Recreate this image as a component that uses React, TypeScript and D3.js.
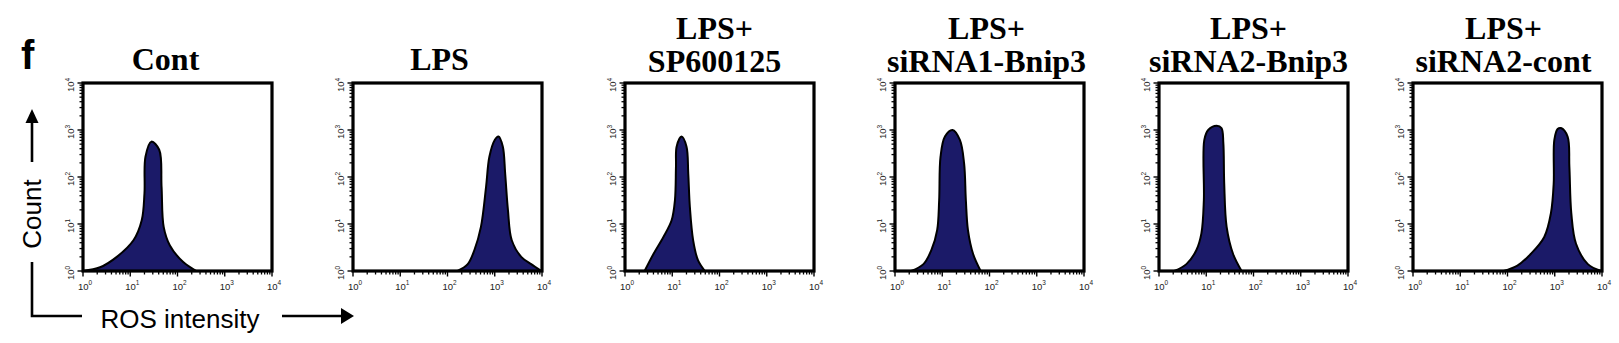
import React from "react";
import * as d3 from "d3";

// ---------- data ----------
const titles: string[][] = [
  ["Cont"],
  ["LPS"],
  ["LPS+", "SP600125"],
  ["LPS+", "siRNA1-Bnip3"],
  ["LPS+", "siRNA2-Bnip3"],
  ["LPS+", "siRNA2-cont"],
];

const tickExponents = ["0", "1", "2", "3", "4"];
const tickValues = [1, 10, 100, 1000, 10000];

// intensity (x) and count (y) pairs
const contX = [1, 2.3, 5.2, 11.7, 17.5, 20, 21, 28, 41, 46, 51, 69, 132, 251];
const contY = [1, 1.2, 2, 4.5, 12, 45, 270, 565, 380, 62, 8.7, 3.5, 1.55, 1];

const lpsX = [163, 268, 371, 510, 655, 770, 1000, 1200, 1480, 1660, 1900, 2290, 3630, 5900, 9700];
const lpsY = [1, 1.4, 2.8, 8.7, 62, 270, 615, 725, 445, 120, 20, 4.5, 2, 1.4, 1];

const spX = [2.6, 4, 6.5, 9.7, 11.4, 12, 12.4, 15.7, 20, 21.8, 23.6, 27.7, 35, 49];
const spY = [1, 2.3, 5.3, 12, 32, 166, 445, 725, 445, 120, 23, 4.5, 1.7, 1];

const si1X = [2.2, 4, 5.9, 7.8, 8.6, 9.2, 11.4, 16.5, 23.6, 29, 31.6, 35, 45, 65];
const si1Y = [1, 1.4, 2.8, 7.4, 32, 270, 725, 1000, 615, 195, 32, 7.4, 2.3, 1];

const si2X = [2.1, 3.8, 6.2, 7.9, 8.9, 9.1, 11, 16.6, 21, 23, 24, 27, 37, 56];
const si2Y = [1, 1.4, 2.8, 6.3, 32, 615, 1000, 1230, 1100, 525, 73, 8.7, 2.3, 1];

const si2cX = [83, 162, 310, 600, 830, 950, 980, 1150, 1350, 1870, 2040, 2240, 2820, 5010, 9700];
const si2cY = [1, 1.3, 2.3, 5.3, 17, 73, 615, 1050, 1100, 725, 166, 17, 3.8, 1.4, 1];

const seriesX = [contX, lpsX, spX, si1X, si2X, si2cX];
const seriesY = [contY, lpsY, spY, si1Y, si2Y, si2cY];

// ---------- layout ----------
const W = 1619;
const H = 343;
const panelLefts = [83, 353, 625, 895, 1159, 1413];
const titleShift = [-12, -8, -5, -3, -5, -4];
const PW = 189;
const PT = 83;
const PH = 188;
const FILL = "#1b1a68";
const SERIF = "'Liberation Serif','Times New Roman',serif";
const SANS = "'Liberation Sans',Arial,sans-serif";

function supLabel(exp: string, size: number) {
  return (
    <>
      <tspan>10</tspan>
      <tspan fontSize={size * 0.68} dy={-size * 0.45}>
        {exp}
      </tspan>
    </>
  );
}

function Panel({ idx }: { idx: number }) {
  const left = panelLefts[idx];
  const x = d3.scaleLog().domain([1, 10000]).range([left, left + PW]);
  const y = d3.scaleLog().domain([1, 10000]).range([PT + PH, PT]);
  const pts: [number, number][] = seriesX[idx].map((v, i) => [v, seriesY[idx][i]]);
  const curve = d3.curveCatmullRom.alpha(0.5);
  const area = d3
    .area<[number, number]>()
    .x((d) => x(d[0]))
    .y0(y(1))
    .y1((d) => Math.min(y(1), y(d[1])))
    .curve(curve);
  const line = d3
    .line<[number, number]>()
    .x((d) => x(d[0]))
    .y((d) => y(d[1]))
    .curve(curve);

  const minor: number[] = [];
  for (let dec = 0; dec < 4; dec++) {
    for (let k = 2; k <= 9; k++) minor.push(k * Math.pow(10, dec));
  }
  const bottom = PT + PH;
  const cx = left + PW / 2 + titleShift[idx];
  const t = titles[idx];
  const clipId = `clip${idx}`;

  return (
    <g>
      <defs>
        <clipPath id={clipId}>
          <rect x={left} y={PT} width={PW} height={PH} />
        </clipPath>
      </defs>
      {t.length === 1 ? (
        <text x={cx} y={70} textAnchor="middle" fontFamily={SERIF} fontWeight="bold" fontSize={32}>
          {t[0]}
        </text>
      ) : (
        <>
          <text x={cx} y={39} textAnchor="middle" fontFamily={SERIF} fontWeight="bold" fontSize={32}>
            {t[0]}
          </text>
          <text x={cx} y={72} textAnchor="middle" fontFamily={SERIF} fontWeight="bold" fontSize={32}>
            {t[1]}
          </text>
        </>
      )}
      <g clipPath={`url(#${clipId})`}>
        <path d={area(pts) || ""} fill={FILL} />
        <path d={line(pts) || ""} fill="none" stroke="#000" strokeWidth={2} />
      </g>
      {minor.map((v) => (
        <g key={"m" + v}>
          <line x1={x(v)} x2={x(v)} y1={bottom} y2={bottom + 3.5} stroke="#000" strokeWidth={1.3} />
          <line x1={left} x2={left - 3.5} y1={y(v)} y2={y(v)} stroke="#000" strokeWidth={1.3} />
        </g>
      ))}
      {tickValues.map((v) => (
        <g key={"M" + v}>
          <line x1={x(v)} x2={x(v)} y1={bottom} y2={bottom + 5.5} stroke="#000" strokeWidth={1.4} />
          <line x1={left} x2={left - 5.5} y1={y(v)} y2={y(v)} stroke="#000" strokeWidth={1.4} />
        </g>
      ))}
      <rect x={left} y={PT} width={PW} height={PH} fill="none" stroke="#000" strokeWidth={3.2} />
      {tickValues.map((v, i) => (
        <text key={"xl" + v} x={x(v) + 2} y={289.5} textAnchor="middle" fontFamily={SANS} fontSize={9.5} fill="#222">
          {supLabel(tickExponents[i], 9.5)}
        </text>
      ))}
      {tickValues.map((v, i) => (
        <text
          key={"yl" + v}
          transform={`translate(${left - 9},${y(v) + 2}) rotate(-90)`}
          textAnchor="middle"
          fontFamily={SANS}
          fontSize={9.5}
          fill="#222"
        >
          {supLabel(tickExponents[i], 9.5)}
        </text>
      ))}
    </g>
  );
}

export default function App() {
  return (
    <svg width={W} height={H} style={{ position: "absolute", left: 0, top: 0, background: "#fff" }}>
      <rect x={0} y={0} width={W} height={H} fill="#fff" />
      <text x={21} y={69} fontFamily={SANS} fontWeight="bold" fontSize={40}>
        f
      </text>
      <text transform="translate(41,214) rotate(-90)" textAnchor="middle" fontFamily={SANS} fontSize={26}>
        Count
      </text>
      <line x1={32} x2={32} y1={162} y2={120} stroke="#000" strokeWidth={2.6} />
      <polygon points="32,109 25.5,123 38.5,123" fill="#000" />
      <path d="M32,262 V316 H82" fill="none" stroke="#000" strokeWidth={2.6} />
      <text x={180} y={328} textAnchor="middle" fontFamily={SANS} fontSize={26}>
        ROS intensity
      </text>
      <line x1={282} x2={345} y1={316} y2={316} stroke="#000" strokeWidth={2.6} />
      <polygon points="354,316 341,308 341,324" fill="#000" />
      {titles.map((_, i) => (
        <Panel key={i} idx={i} />
      ))}
    </svg>
  );
}
